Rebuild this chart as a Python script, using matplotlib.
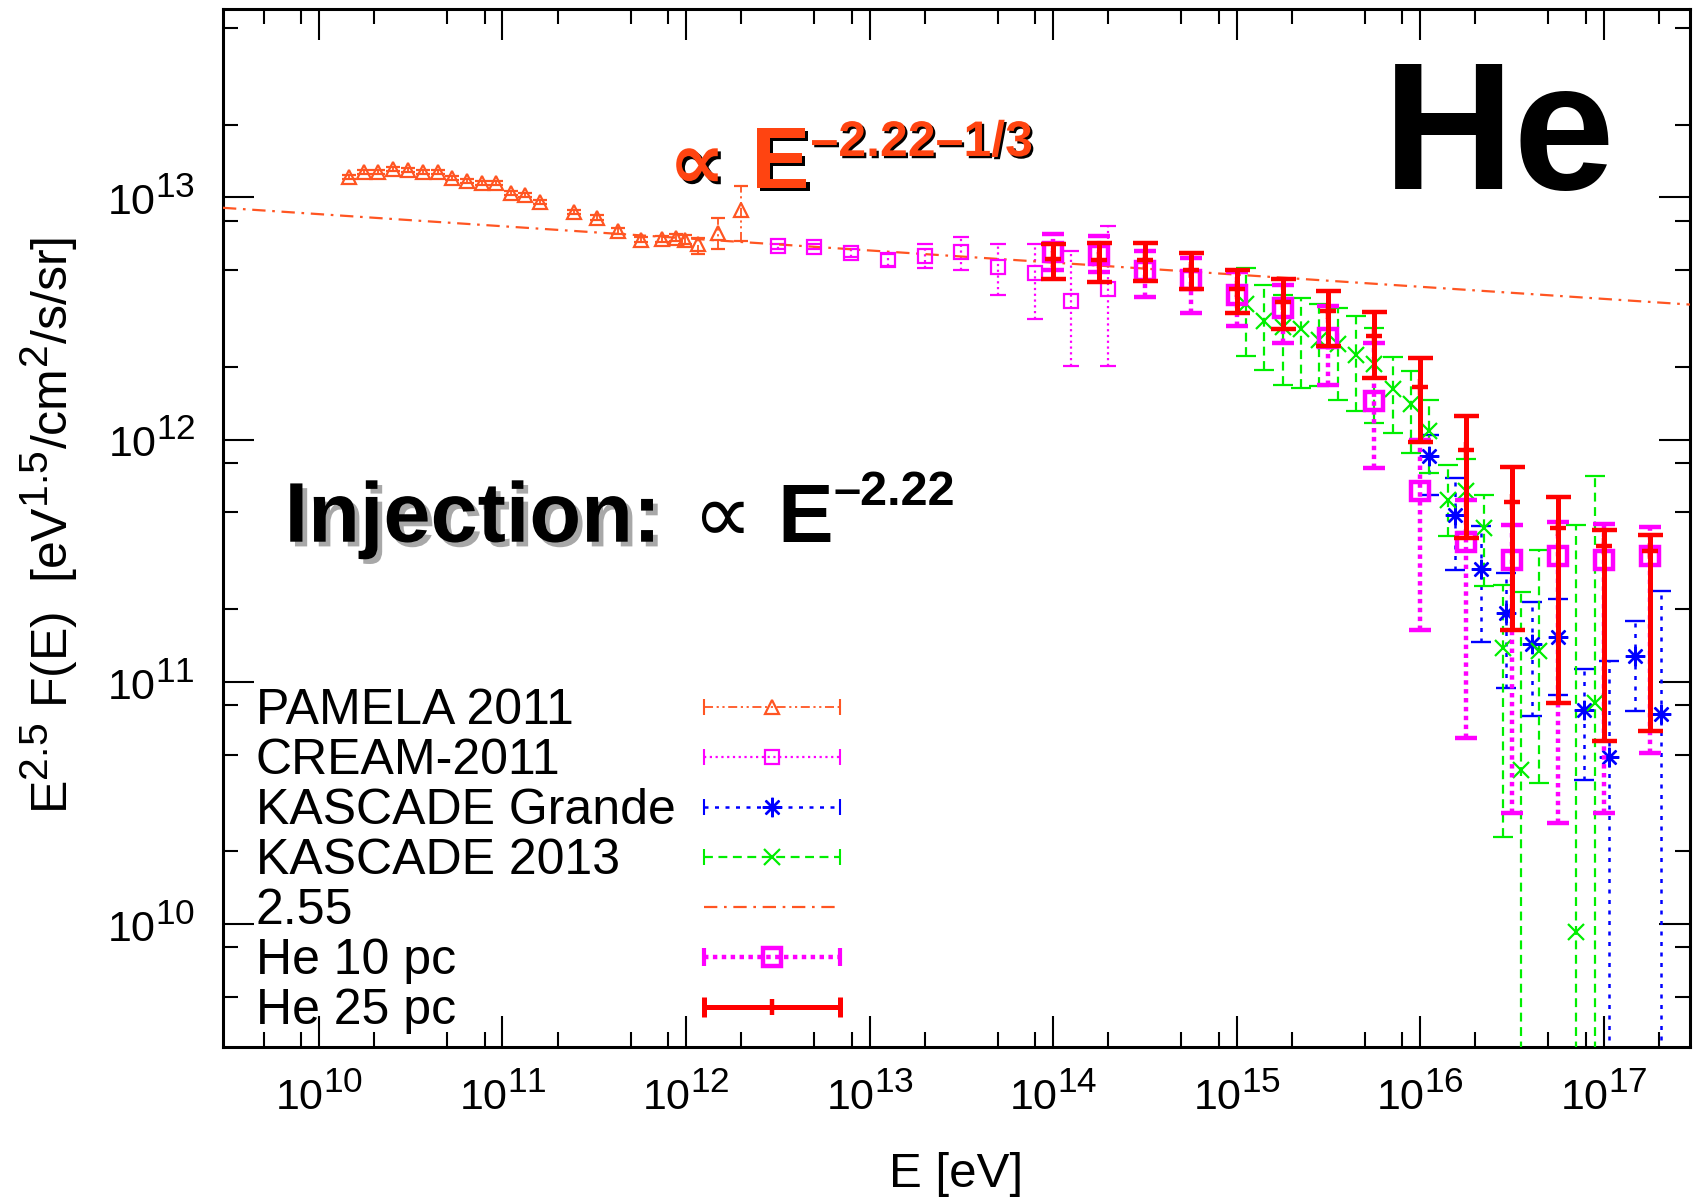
import numpy as np
import matplotlib
matplotlib.use("Agg")
import matplotlib.pyplot as plt
import matplotlib.patheffects as pe
import matplotlib._mathtext as mathtext_mod
from matplotlib.lines import Line2D
from matplotlib.legend_handler import HandlerLine2D
from matplotlib.ticker import LogLocator, NullFormatter, LogFormatterMathtext

plt.rcParams['font.family'] = ['Liberation Sans', 'DejaVu Sans']
plt.rcParams['mathtext.fontset'] = 'custom'
plt.rcParams['mathtext.rm'] = 'Liberation Sans'
plt.rcParams['mathtext.it'] = 'Liberation Sans:italic'
plt.rcParams['mathtext.bf'] = 'Liberation Sans:bold'
# gnuplot style exponents are only a little smaller than the base text
mathtext_mod.SHRINK_FACTOR = 0.82

# --- data (log10 E [eV], log10 E^2.5 F) ---
# PAMELA 2011
pam_logE = [10.166, 10.245, 10.324, 10.405, 10.485, 10.568, 10.647, 10.724, 10.807, 10.887,
            10.964, 11.047, 11.124, 11.204, 11.391, 11.516, 11.630, 11.756, 11.870, 11.943,
            11.995, 12.068, 12.172, 12.297]
pam_logF = [13.084, 13.105, 13.105, 13.116, 13.113, 13.105, 13.105, 13.081, 13.067, 13.061,
            13.058, 13.019, 13.010, 12.981, 12.939, 12.916, 12.861, 12.826, 12.829, 12.833,
            12.826, 12.806, 12.854, 12.950]
pam_hi = [13.092, 13.113, 13.113, 13.124, 13.121, 13.113, 13.113, 13.089, 13.075, 13.069,
          13.066, 13.027, 13.018, 12.990, 12.948, 12.926, 12.872, 12.838, 12.842, 12.847,
          12.846, 12.831, 12.913, 13.047]
pam_lo = [13.076, 13.097, 13.097, 13.108, 13.105, 13.097, 13.097, 13.073, 13.059, 13.053,
          13.050, 13.011, 13.002, 12.972, 12.930, 12.906, 12.850, 12.814, 12.816, 12.819,
          12.806, 12.767, 12.785, 12.819]

# CREAM-2011
cream_logE = [12.5, 12.7, 12.9, 13.1, 13.3, 13.5, 13.7, 13.9, 14.1, 14.3]
cream_logF = [12.799, 12.796, 12.771, 12.740, 12.758, 12.776, 12.712, 12.686, 12.572, 12.620]
cream_hi = [12.809, 12.806, 12.786, 12.765, 12.806, 12.838, 12.809, 12.809, 12.778, 12.881]
cream_lo = [12.789, 12.786, 12.756, 12.715, 12.707, 12.702, 12.599, 12.496, 12.303, 12.303]

# KASCADE Grande
kg_logE = [16.05, 16.19, 16.33, 16.47, 16.61, 16.75, 16.89, 17.03, 17.17, 17.31]
kg_logF = [11.934, 11.690, 11.467, 11.284, 11.157, 11.184, 10.882, 10.691, 11.105, 10.868]
kg_hi = [12.02, 11.842, 11.642, 11.45, 11.329, 11.342, 11.053, 11.084, 11.249, 11.373]
kg_lo = [11.77, 11.463, 11.162, 10.974, 10.857, 10.946, 10.595, 9.0, 10.877, 9.0]

# KASCADE 2013
k13_logE = [15.05, 15.15, 15.25, 15.35, 15.45, 15.55, 15.65, 15.75, 15.85, 15.95,
            16.05, 16.15, 16.25, 16.35, 16.45, 16.55, 16.65, 16.85, 16.95]
k13_logF = [12.558, 12.489, 12.466, 12.455, 12.413, 12.393, 12.351, 12.310, 12.207, 12.145,
            12.034, 11.752, 11.786, 11.635, 11.139, 10.636, 11.125, 9.968, 10.912]
k13_hi = [12.709, 12.640, 12.599, 12.585, 12.56, 12.544, 12.510, 12.46, 12.341, 12.282,
          12.165, 11.897, 11.92, 11.773, 11.401, 11.369, 11.545, 11.649, 11.848]
k13_lo = [12.344, 12.289, 12.227, 12.214, 12.22, 12.165, 12.117, 12.07, 12.028, 11.945,
          11.862, 11.600, 11.62, 11.394, 10.36, 9.0, 10.58, 9.0, 9.0]

# "2.55" power law, end points at the plot edges
line_E = [3.0e9, 2.95e17]
line_F = [9.06e12, 3.61e12]

# model, source at 10 pc and 25 pc
he_logE = [14.0, 14.25, 14.5, 14.75, 15.0, 15.25, 15.5, 15.75, 16.0, 16.25, 16.5, 16.75, 17.0, 17.25]
he10_logF = [12.776, 12.764, 12.696, 12.661, 12.599, 12.544, 12.420, 12.158, 11.786, 11.576,
             11.504, 11.518, 11.504, 11.518]
he10_hi = [12.847, 12.84, 12.78, 12.75, 12.69, 12.64, 12.55, 12.40, 12.00, 11.75,
           11.649, 11.66, 11.65, 11.64]
he10_lo = [12.70, 12.69, 12.590, 12.524, 12.468, 12.400, 12.227, 11.883, 11.215, 10.767,
           10.457, 10.416, 10.457, 10.705]
he25_logF = [12.745, 12.740, 12.740, 12.700, 12.620, 12.570, 12.531, 12.427, 12.218, 11.956,
             11.743, 11.635, 11.559, 11.538]
he25_hi = [12.806, 12.810, 12.812, 12.771, 12.700, 12.664, 12.613, 12.526, 12.338, 12.096,
           11.886, 11.762, 11.628, 11.607]
he25_lo = [12.664, 12.650, 12.654, 12.620, 12.521, 12.455, 12.386, 12.255, 11.989, 11.594,
           11.215, 10.912, 10.757, 10.797]

labels = ["PAMELA 2011", "CREAM-2011", "KASCADE Grande", "KASCADE 2013", "2.55",
          "He 10 pc", "He 25 pc"]

# major ticks shown on each axis
xticks = [1e10, 1e11, 1e12, 1e13, 1e14, 1e15, 1e16, 1e17]
yticks = [1e10, 1e11, 1e12, 1e13]

c_pam = "#ff5522"
c_mag = "#ff00ff"
c_blue = "#0000ff"
c_green = "#00ee00"
c_red = "#ff0000"
c_txt = "#ff4411"

ls_pam = (0, (5, 2, 1.2, 2, 1.2, 2))
ls_cream = (0, (1, 1.6))
ls_kg = (0, (1.6, 2.6))
ls_k13 = (0, (4, 2.5))
ls_line = (0, (6, 3, 1.2, 3))
ls_he10 = (0, (1, 1))

fig = plt.figure(figsize=(16.93, 12), dpi=100)
ax = fig.add_axes([0.1317, 0.1275, 0.8665, 0.865])


def draw(logE, logF, hi, lo, color, ls, lw, marker, ms, mew, cap, capw, z):
    E = 10 ** np.array(logE)
    F = 10 ** np.array(logF)
    yerr = [F - 10 ** np.array(lo), 10 ** np.array(hi) - F]
    eb = ax.errorbar(E, F, yerr=yerr, fmt='', marker=marker, linestyle='none', color=color,
                     ms=ms, mew=mew, mfc='none', ecolor=color, elinewidth=lw, capsize=cap,
                     capthick=capw, zorder=z)
    eb[2][0].set_linestyle(ls)
    return eb


draw(pam_logE, pam_logF, pam_hi, pam_lo, c_pam, ls_pam, 1.3, '^', 10, 1.6, 5, 1.3, 3)
draw(cream_logE, cream_logF, cream_hi, cream_lo, c_mag, ls_cream, 1.6, 's', 10, 1.6, 6, 1.6, 3)
draw(kg_logE, kg_logF, kg_hi, kg_lo, c_blue, ls_kg, 1.8, (8, 2, 0), 14, 1.7, 7, 1.6, 4)
draw(k13_logE, k13_logF, k13_hi, k13_lo, c_green, ls_k13, 1.6, 'x', 12, 1.6, 7, 1.6, 4)
ax.plot(line_E, line_F, color=c_pam, ls=ls_line, lw=1.6, zorder=3)
draw(he_logE, he10_logF, he10_hi, he10_lo, c_mag, ls_he10, 3.2, 's', 13, 3.2, 8, 3.0, 5)
draw(he_logE, he25_logF, he25_hi, he25_lo, c_red, '-', 3.6, '+', 12, 3.2, 9, 3.6, 6)

ax.set_xscale('log')
ax.set_yscale('log')
ax.set_xlim(3.0e9, 2.95e17)
ax.set_ylim(3.1e9, 6.0e13)

ax.set_xticks(xticks)
ax.set_yticks(yticks)
for axis in (ax.xaxis, ax.yaxis):
    axis.set_major_formatter(LogFormatterMathtext())
    axis.set_minor_locator(LogLocator(base=10, subs=(2, 5, 8), numticks=20))
    axis.set_minor_formatter(NullFormatter())
ax.tick_params(which='both', direction='in', top=True, right=True, width=1.5, colors='black')
ax.tick_params(which='major', length=22, labelsize=31)
ax.tick_params(which='minor', length=11)
ax.tick_params(axis='x', which='major', pad=20)
ax.tick_params(axis='y', which='major', pad=20)
for s in ax.spines.values():
    s.set_linewidth(2.2)

ax.set_xlabel("E [eV]", fontsize=35.5)
ax.xaxis.set_label_coords(0.5, -0.101)
ax.set_ylabel(r"E$^{2.5}$ F(E)  [eV$^{1.5}$/cm$^{2}$/s/sr]", fontsize=36)
ax.yaxis.set_label_coords(-0.0975, 0.502)

# legend: text column and sample column as two legends so both stay aligned
def sample(color, ls, lw, marker=None, ms=10, mew=1.5, caps=True, capms=11, capw=1.5):
    body = Line2D([], [], color=color, ls=ls, lw=lw, marker=marker, ms=ms, mew=mew, mfc='none')
    if not caps:
        return body, None
    ends = Line2D([], [], color=color, ls='none', marker='|', ms=capms, mew=capw)
    return body, ends


samples = [
    sample(c_pam, ls_pam, 1.3, '^', 10, 1.6),
    sample(c_mag, ls_cream, 1.6, 's', 10, 1.6),
    sample(c_blue, ls_kg, 1.8, (8, 2, 0), 14, 1.7),
    sample(c_green, ls_k13, 1.6, 'x', 12, 1.6),
    sample(c_pam, ls_line, 1.6, caps=False),
    sample(c_mag, ls_he10, 3.2, 's', 13, 3.2, capms=13, capw=3.0),
    sample(c_red, '-', 3.6, '|', 12, 3.2, capms=14, capw=3.6),
]
handles = []
hmap = {}
for body, ends in samples:
    if ends is None:
        handles.append(body)
    else:
        handles.append((body, ends))
        hmap[ends] = HandlerLine2D(numpoints=2, marker_pad=0)

leg_kw = dict(loc='upper left', frameon=False, fontsize=36, borderpad=0, borderaxespad=0,
              labelspacing=0.08, numpoints=1)
blank = [Line2D([], [], alpha=0) for _ in labels]
leg_txt = ax.legend(blank, labels, bbox_to_anchor=(0.0225, 0.3457), handlelength=0,
                    handletextpad=0, **leg_kw)
ax.add_artist(leg_txt)
ax.legend(handles, [""] * len(labels), bbox_to_anchor=(0.328, 0.3457), handler_map=hmap,
          handlelength=2.72, handletextpad=0, **leg_kw)

# annotations
def put(x, y, s, size, color='black', weight='bold', shadow=None, off=2.2):
    eff = None
    if shadow is not None:
        eff = [pe.withSimplePatchShadow(offset=(off, -off), shadow_rgbFace=shadow, alpha=1.0)]
    ax.text(x, y, s, transform=ax.transAxes, fontsize=size, color=color, fontweight=weight,
            ha='left', va='baseline', path_effects=eff, zorder=10)


put(0.791, 0.8266, "He", 131)

put(0.304, 0.8273, "\u221d", 57, color=c_txt, shadow='black')
put(0.3603, 0.8273, "E", 63, color=c_txt, shadow='black')
put(0.4005, 0.8584, "\u20132.22\u20131/3", 36, color=c_txt, shadow='black', off=1.6)

put(0.0420, 0.4868, "Injection:", 61, shadow='#a8a8a8', off=3.4)
put(0.3195, 0.4868, "\u221d", 60, weight='normal')
put(0.3776, 0.4868, "E", 60)
put(0.4165, 0.522, "\u20132.22", 35)

fig.savefig("out.png", dpi=100)
